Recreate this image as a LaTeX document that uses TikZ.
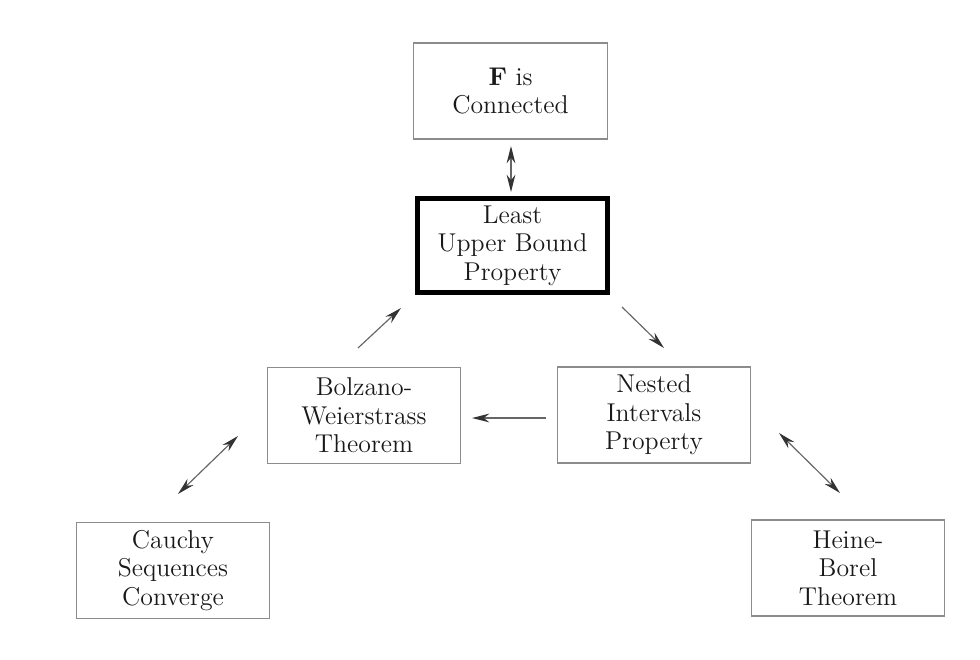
\documentclass[tikz,border=0pt]{standalone}
\usepackage{amsmath, amssymb}
\usetikzlibrary{arrows.meta}

\begin{document}
\begin{tikzpicture}[x=0.15mm,y=-0.15mm]
        \tikzset{
          box/.style={draw=black!45, line width=0.5pt, align=center, minimum width=29mm, minimum height=14.4mm, inner sep=0pt, text=black!90, font=\fontsize{11}{12.2}\selectfont},
          mainbox/.style={box, draw=black, line width=2.2pt, minimum width=28.5mm, minimum height=14mm},
          imp/.style={draw=black!60, line width=0.5pt, -{Stealth[length=2.6mm,width=1.3mm,black!80]}},
          iff/.style={imp, {Stealth[length=2.6mm,width=1.3mm,black!80]}-{Stealth[length=2.6mm,width=1.3mm,black!80]}}
        }
        \useasboundingbox (0,0) rectangle (980,660);
        % boxes
        \node [box] (conn) at (510.5,91) {$\mathbf{F}$ is\\Connected};
        \node [mainbox] (lub) at (512.5,245.5) {Least\\Upper Bound\\Property};
        \node [box] (bw) at (364,415.5) {Bolzano-\\Weierstrass\\Theorem};
        \node [box] (nip) at (654,415) {Nested\\Intervals\\Property};
        \node [box] (cau) at (173,570.5) {Cauchy\\Sequences\\Converge};
        \node [box] (hb) at (848,568) {Heine-\\Borel\\Theorem};
        % arrow ends
        \coordinate (conn-s) at (511,146);
        \coordinate (lub-n) at (511,192);
        \coordinate (bw-ne) at (358,348);
        \coordinate (lub-sw) at (401,308);
        \coordinate (lub-se) at (622,307);
        \coordinate (nip-nw) at (664,348);
        \coordinate (nip-w) at (546,418);
        \coordinate (bw-e) at (472,418);
        \coordinate (cau-ne) at (178,494);
        \coordinate (bw-sw) at (238,436);
        \coordinate (nip-se) at (779,433);
        \coordinate (hb-nw) at (840,493);
        % implications
        \draw [iff] (conn-s) -- (lub-n);
        \draw [imp] (bw-ne) -- (lub-sw);
        \draw [imp] (lub-se) -- (nip-nw);
        \draw [imp] (nip-w) -- (bw-e);
        \draw [iff] (cau-ne) -- (bw-sw);
        \draw [iff] (nip-se) -- (hb-nw);
\end{tikzpicture}
\end{document}
